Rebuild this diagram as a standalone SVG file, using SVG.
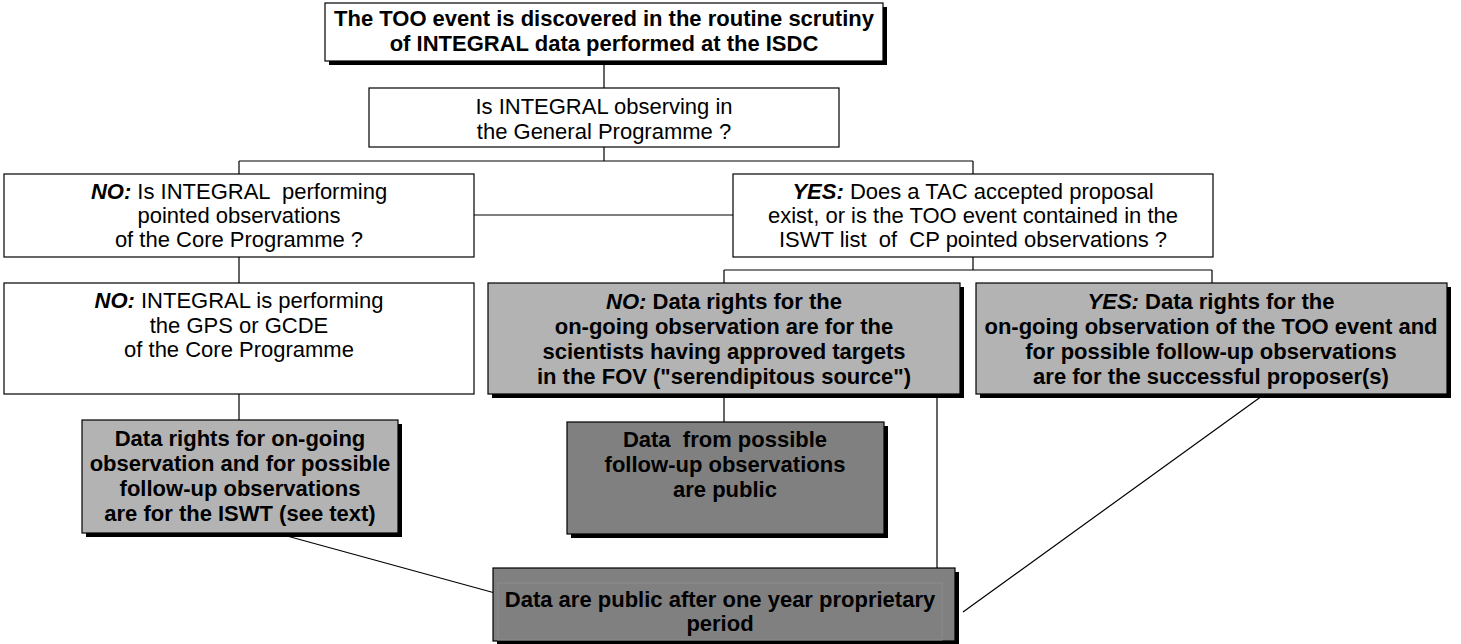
<svg xmlns="http://www.w3.org/2000/svg" width="1461" height="644" viewBox="0 0 1461 644">
<style>
.box{fill:#fff;stroke:#000;stroke-width:1.2}
.lg{fill:#b3b3b3;stroke:#000;stroke-width:1.2}
.dg{fill:#808080;stroke:#000;stroke-width:1.2}
.sh{fill:#000}
.b{font-family:"Liberation Sans",Arial,sans-serif;font-size:22px;font-weight:bold;text-anchor:middle;fill:#000}
.r{font-family:"Liberation Sans",Arial,sans-serif;font-size:22px;text-anchor:middle;fill:#000}
.bi{font-weight:bold;font-style:italic}
.i{font-style:italic}
.c{fill:none;stroke:#000;stroke-width:1.2}
</style>
<rect width="1461" height="644" fill="#fff"/>
<g id="connectors">
<path class="c" d="M604 61V88M604 147V161M239 161H973M239 161V174M973 161V174M474 215H733M239 257V283M239 394V420M973 257V270M724 270H1212M724 270V283M1212 270V283M724 394V422M937 394V568M276 533L495 593M1262 396L963 612"/>
</g>
<g id="n1">
<rect class="sh" x="329" y="7" width="558" height="58"/>
<rect class="box" x="325" y="3" width="558" height="58"/>
<text class="b" x="604" y="26">The TOO event is discovered in the routine scrutiny</text>
<text class="b" x="604" y="51">of INTEGRAL data performed at the ISDC</text>
</g>
<g id="n2">
<rect class="box" x="369" y="88" width="470" height="59"/>
<text class="r" x="604" y="114">Is INTEGRAL observing in</text>
<text class="r" x="604" y="139">the General Programme ?</text>
</g>
<g id="n3">
<rect class="box" x="4" y="174" width="470" height="83"/>
<text class="r" x="239" y="199" xml:space="preserve"><tspan class="bi">NO:</tspan> Is INTEGRAL  performing</text>
<text class="r" x="239" y="223">pointed observations</text>
<text class="r" x="239" y="247">of the Core Programme ?</text>
</g>
<g id="n4">
<rect class="box" x="733" y="174" width="480" height="83"/>
<text class="r" x="973" y="199"><tspan class="bi">YES:</tspan> Does a TAC accepted proposal</text>
<text class="r" x="973" y="223">exist, or is the TOO event contained in the</text>
<text class="r" x="973" y="247" xml:space="preserve">ISWT list  of  CP pointed observations ?</text>
</g>
<g id="n5">
<rect class="box" x="4" y="283" width="470" height="111"/>
<text class="r" x="239" y="308"><tspan class="bi">NO:</tspan> INTEGRAL is performing</text>
<text class="r" x="239" y="333">the GPS or GCDE</text>
<text class="r" x="239" y="357">of the Core Programme</text>
</g>
<g id="n6">
<rect class="sh" x="492" y="287" width="472" height="111"/>
<rect class="lg" x="488" y="283" width="472" height="111"/>
<text class="b" x="724" y="309"><tspan class="i">NO:</tspan> Data rights for the</text>
<text class="b" x="724" y="334">on-going observation are for the</text>
<text class="b" x="724" y="359">scientists having approved targets</text>
<text class="b" x="724" y="384">in the FOV ("serendipitous source")</text>
</g>
<g id="n7">
<rect class="sh" x="980" y="287" width="471" height="111"/>
<rect class="lg" x="976" y="283" width="471" height="111"/>
<text class="b" x="1211" y="309"><tspan class="i">YES:</tspan> Data rights for the</text>
<text class="b" x="1211" y="334">on-going observation of the TOO event and</text>
<text class="b" x="1211" y="359">for possible follow-up observations</text>
<text class="b" x="1211" y="384">are for the successful proposer(s)</text>
</g>
<g id="n8">
<rect class="sh" x="86" y="424" width="316" height="113"/>
<rect class="lg" x="82" y="420" width="316" height="113"/>
<text class="b" x="240" y="446">Data rights for on-going</text>
<text class="b" x="240" y="471">observation and for possible</text>
<text class="b" x="240" y="496">follow-up observations</text>
<text class="b" x="240" y="521">are for the ISWT (see text)</text>
</g>
<g id="n9">
<rect class="sh" x="571" y="426" width="317" height="112"/>
<rect class="dg" x="567" y="422" width="317" height="112"/>
<text class="b" x="725" y="447" xml:space="preserve">Data  from possible</text>
<text class="b" x="725" y="472">follow-up observations</text>
<text class="b" x="725" y="497">are public</text>
</g>
<g id="n10">
<rect class="sh" x="497" y="572" width="462" height="72"/>
<rect class="dg" x="493" y="568" width="462" height="73"/>
<rect x="498" y="583" width="444" height="57" fill="none" stroke="#8c8c8c" stroke-width="1"/>
<text class="b" x="720" y="607">Data are public after one year proprietary</text>
<text class="b" x="720" y="631">period</text>
</g>
</svg>
